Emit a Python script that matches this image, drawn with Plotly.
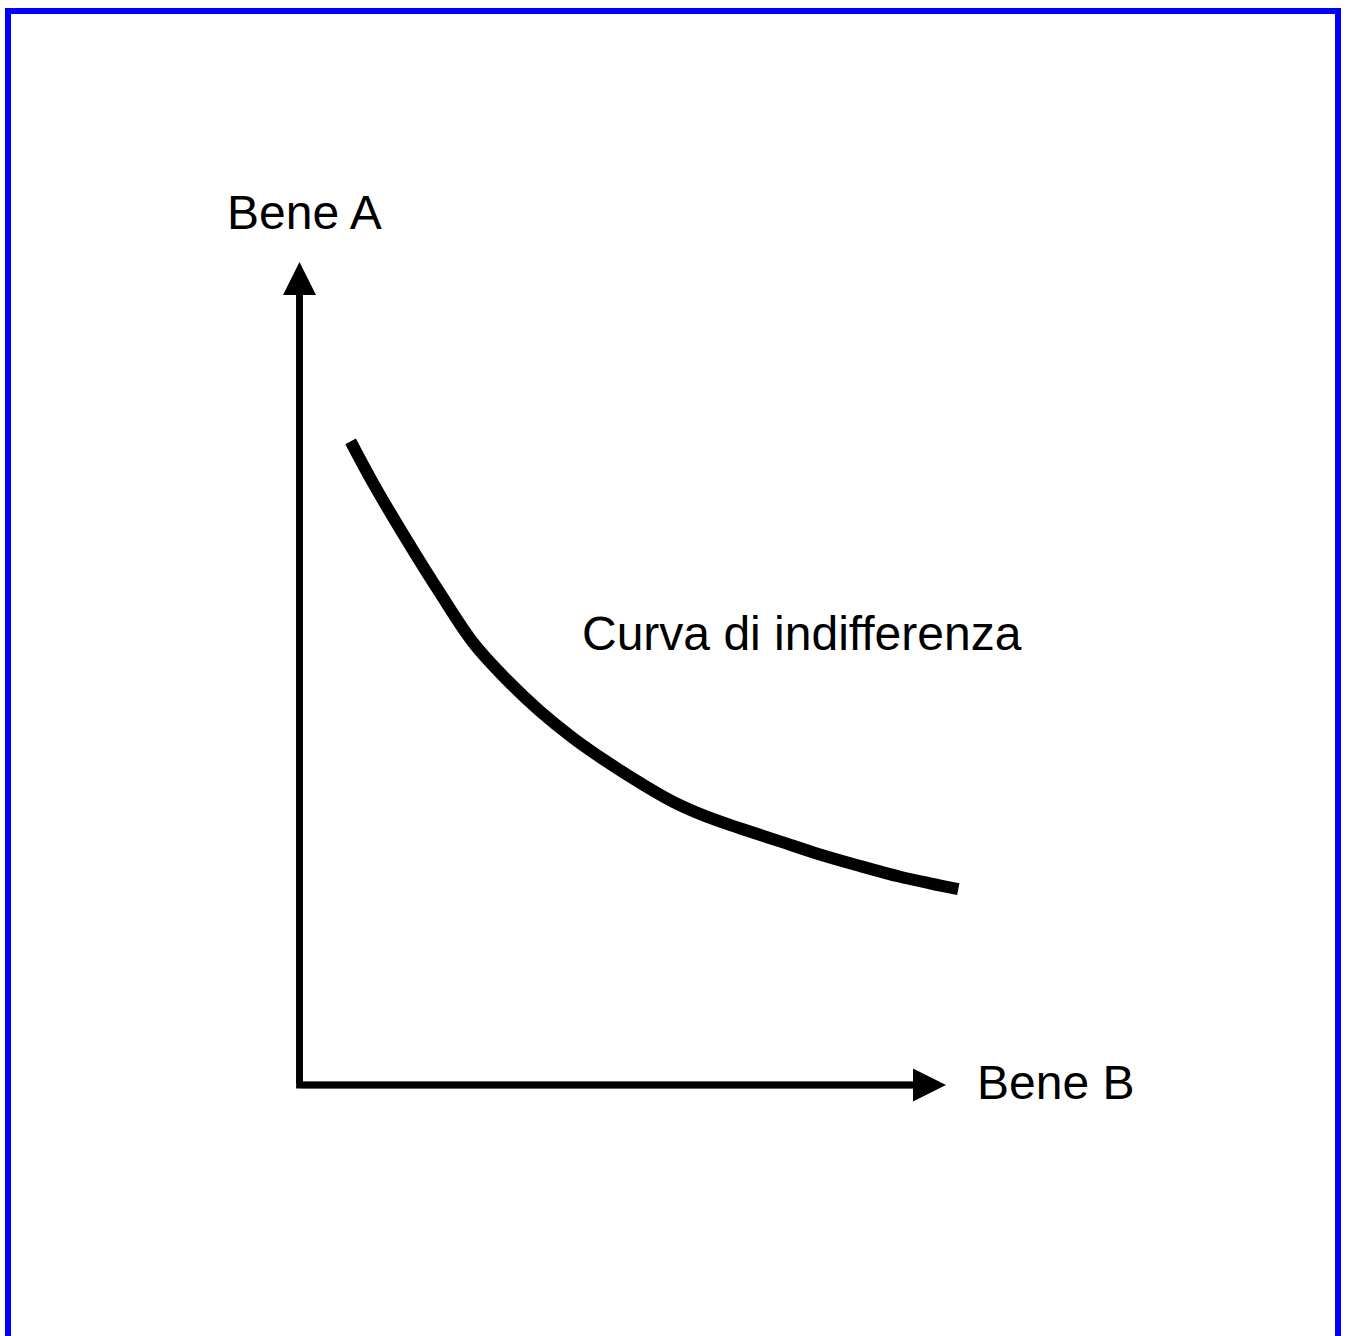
import plotly.graph_objects as go

# Indifference curve (Bene B on x, Bene A on y), abstract quantity units
bene_b = [0.79, 1.14, 1.66, 2.17, 2.69, 3.21, 3.72, 4.24, 4.75, 5.27, 5.78,
          6.30, 6.81, 7.43, 8.05, 8.67, 9.29, 9.75, 10.19]
bene_a = [7.82, 7.31, 6.62, 5.98, 5.37, 4.92, 4.54, 4.21, 3.93, 3.67, 3.44,
          3.26, 3.12, 2.96, 2.80, 2.66, 2.53, 2.45, 2.38]

axis_len_x = 10.0
axis_len_y = 10.0

labels = ["Bene A", "Curva di indifferenza", "Bene B"]
label_x = [-1.15, 4.34, 10.45]
label_y = [10.60, 5.48, 0.03]

W, H = 1348, 1336
x_range = [-4.633, 16.218]
y_range = [-3.050, 13.183]

fig = go.Figure()

# axes (L shape)
fig.add_trace(go.Scatter(
    x=[0, 0, axis_len_x - 0.3], y=[axis_len_y - 0.3, 0, 0],
    mode="lines", line=dict(color="black", width=6.8),
    hoverinfo="skip", showlegend=False))

# curve
fig.add_trace(go.Scatter(
    x=bene_b, y=bene_a, mode="lines",
    line=dict(color="black", width=12, shape="spline", smoothing=1.0),
    hoverinfo="skip", showlegend=False))

# arrowheads
for (tx, ty, sx, sy) in [(axis_len_x, 0, 0, 0), (0, axis_len_y, 0, 0)]:
    fig.add_annotation(x=tx, y=ty, ax=sx, ay=sy, xref="x", yref="y",
                       axref="x", ayref="y", text="", showarrow=True,
                       arrowhead=2, arrowsize=1, arrowwidth=6.6,
                       arrowcolor="black", standoff=0)

for t, lx, ly in zip(labels, label_x, label_y):
    fig.add_annotation(x=lx, y=ly, xref="x", yref="y", text=t, showarrow=False,
                       xanchor="left", yanchor="middle",
                       font=dict(family="Liberation Sans, Arial", size=48, color="black"))

# blue frame
fig.add_shape(type="rect", xref="paper", yref="paper",
              x0=8 / W, x1=1338 / W, y0=1 - 1345 / H, y1=1 - 11 / H,
              line=dict(color="#0000ff", width=6), fillcolor="rgba(0,0,0,0)")

fig.update_layout(
    width=W, height=H, margin=dict(l=0, r=0, t=0, b=0),
    paper_bgcolor="white", plot_bgcolor="white",
    xaxis=dict(range=x_range, visible=False, fixedrange=True),
    yaxis=dict(range=y_range, visible=False, fixedrange=True),
    showlegend=False)

fig.write_html("out.html", config={"displayModeBar": False},
               post_script="document.body.style.margin='0';")
